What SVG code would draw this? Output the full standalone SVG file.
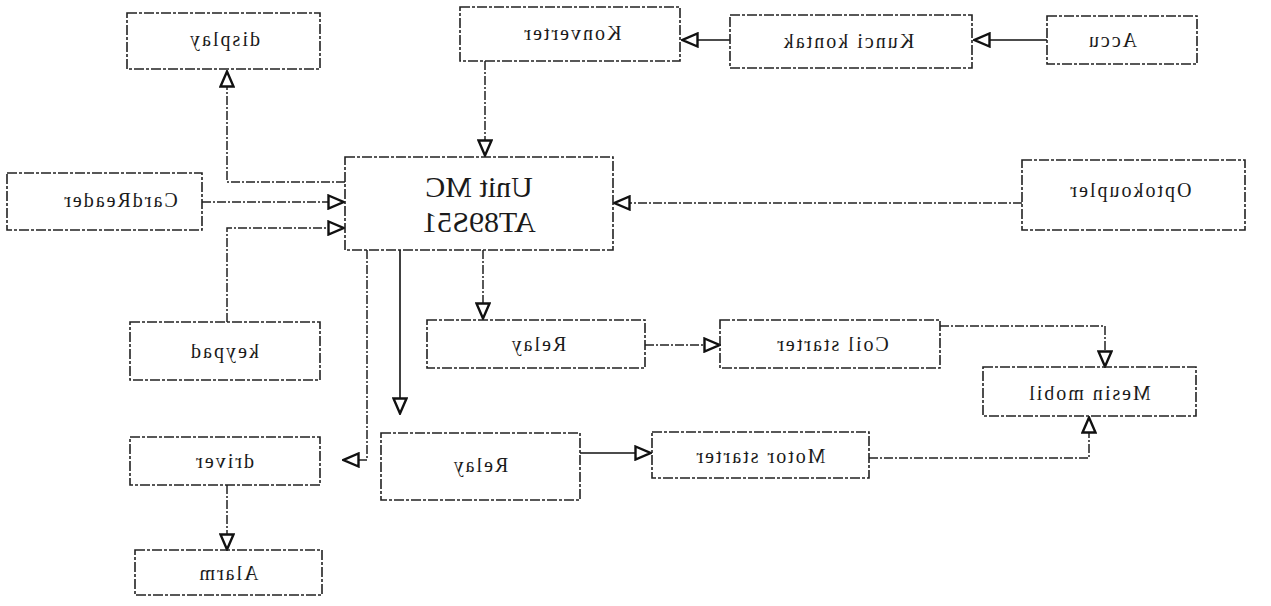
<svg xmlns="http://www.w3.org/2000/svg" width="1271" height="606" viewBox="0 0 1271 606">
<style>
.box{fill:none;stroke:#222;stroke-width:1.6;stroke-dasharray:10 2 3 2}
.ln{fill:none;stroke:#222;stroke-width:1.5;stroke-dasharray:9 2 2 2}
.solid{fill:none;stroke:#111;stroke-width:1.6}
text{font-family:"Liberation Serif","Times New Roman",serif;font-size:20px;letter-spacing:2px;fill:#1a1a1a;text-anchor:middle}
.big{font-size:30px;letter-spacing:0}
</style>
<defs>
<marker id="tri" viewBox="0 0 18 16" refX="17" refY="8" markerWidth="18" markerHeight="16" markerUnits="userSpaceOnUse" orient="auto">
<path d="M1.5,1.5 L16.5,8 L1.5,14.5 Z" fill="#fff" stroke="#111" stroke-width="2.4"/>
</marker>
</defs>
<rect width="1271" height="606" fill="#fff"/>
<g id="connectors">
<path class="solid" d="M1047,40 L974,40" marker-end="url(#tri)"/>
<path class="solid" d="M730,40 L682,40" marker-end="url(#tri)"/>
<path class="ln" d="M485,61 L485,156" marker-end="url(#tri)"/>
<path class="ln" d="M345,182 L227,182 L227,71" marker-end="url(#tri)"/>
<path class="ln" d="M202,202 L344,202" marker-end="url(#tri)"/>
<path class="ln" d="M227,322 L227,228 L344,228" marker-end="url(#tri)"/>
<path class="ln" d="M1022,203 L614,203" marker-end="url(#tri)"/>
<path class="ln" d="M367,250 L367,460 L343,460" marker-end="url(#tri)"/>
<path class="solid" d="M400,250 L400,414" marker-end="url(#tri)"/>
<path class="ln" d="M483,250 L483,319" marker-end="url(#tri)"/>
<path class="ln" d="M645,345 L720,345" marker-end="url(#tri)"/>
<path class="ln" d="M940,326 L1105,326 L1105,367" marker-end="url(#tri)"/>
<path class="solid" d="M580,453 L651,453" marker-end="url(#tri)"/>
<path class="ln" d="M869,458 L1089,458 L1089,417" marker-end="url(#tri)"/>
<path class="ln" d="M227,485 L227,550" marker-end="url(#tri)"/>
</g>
<g id="display"><rect class="box" x="127" y="13" width="193" height="56"/><text transform="translate(224,46) scale(-1,1)">display</text></g>
<g id="konverter"><rect class="box" x="460" y="7" width="220" height="54"/><text transform="translate(572,40) scale(-1,1)">Konverter</text></g>
<g id="kunci"><rect class="box" x="730" y="15" width="242" height="53"/><text transform="translate(848,48) scale(-1,1)">Kunci kontak</text></g>
<g id="accu"><rect class="box" x="1047" y="16" width="150" height="48"/><text transform="translate(1112,47) scale(-1,1)">Accu</text></g>
<g id="unitmc"><rect class="box" x="345" y="157" width="268" height="93"/><text class="big" transform="translate(479,197) scale(-1,1)">Unit MC</text><text class="big" transform="translate(479,232) scale(-1,1)">AT89S51</text></g>
<g id="cardreader"><rect class="box" x="7" y="173" width="195" height="57"/><text transform="translate(120,207) scale(-1,1)">CardReader</text></g>
<g id="optokoupler"><rect class="box" x="1022" y="160" width="223" height="70"/><text transform="translate(1130,197) scale(-1,1)">Optokoupler</text></g>
<g id="keypad"><rect class="box" x="130" y="322" width="190" height="58"/><text transform="translate(224,358) scale(-1,1)">keypad</text></g>
<g id="relay1"><rect class="box" x="427" y="320" width="218" height="48"/><text transform="translate(538,351) scale(-1,1)">Relay</text></g>
<g id="coil"><rect class="box" x="720" y="320" width="220" height="48"/><text transform="translate(832,351) scale(-1,1)">Coil starter</text></g>
<g id="mesin"><rect class="box" x="983" y="367" width="213" height="49"/><text transform="translate(1089,400) scale(-1,1)">Mesin mobil</text></g>
<g id="driver"><rect class="box" x="130" y="437" width="190" height="48"/><text transform="translate(224,468) scale(-1,1)">driver</text></g>
<g id="relay2"><rect class="box" x="381" y="433" width="199" height="67"/><text transform="translate(480,472) scale(-1,1)">Relay</text></g>
<g id="motor"><rect class="box" x="652" y="432" width="217" height="46"/><text transform="translate(760,463) scale(-1,1)">Motor starter</text></g>
<g id="alarm"><rect class="box" x="135" y="550" width="187" height="45"/><text transform="translate(228,580) scale(-1,1)">Alarm</text></g>
</svg>
